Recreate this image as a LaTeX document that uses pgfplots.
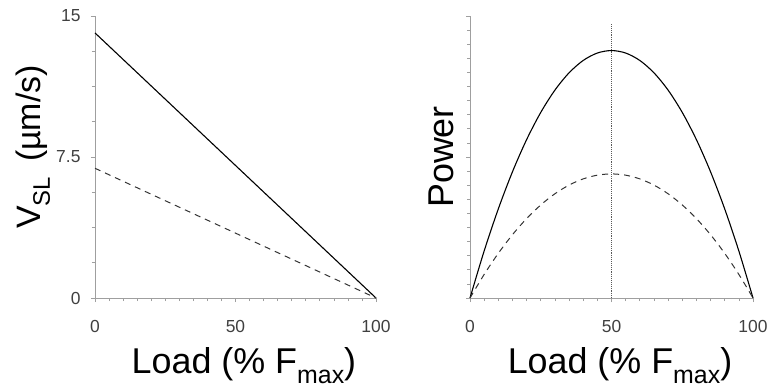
\documentclass[border=0pt]{standalone}
\usepackage{fontspec}
\setmainfont{Liberation Sans}
\usepackage{pgfplots}
\pgfplotsset{compat=1.18}
\begin{document}
\begin{tikzpicture}
\path[use as bounding box] (0,0) rectangle (771bp,391bp);
\pgfplotsset{
  common/.style={
    scale only axis, width=281bp, height=282bp,
    axis x line*=bottom, axis y line*=left,
    axis line style={draw=gray!75, line width=0.8bp, -},
    xmin=0, xmax=100,
    every tick/.style={draw=gray!75, line width=0.7bp},
    tick align=outside,
    major tick length=4bp, minor tick length=3bp,
    /pgf/number format/assume math mode=true,
    ticklabel style={font=\fontsize{17.5}{19}\selectfont, text=black!75},
    xtick={0,50,100}, minor x tick num=9,
    xticklabel style={yshift=-15bp},
    yticklabel style={xshift=-7bp},
    label style={font=\fontsize{36}{40}\selectfont},
    xlabel={Load (\% F\raisebox{-0.28em}{\fontsize{25}{25}\selectfont max})},
    xlabel style={at={(axis description cs:0.53,0)}, anchor=base, yshift=-75bp},
    clip=false,
  }
}
\begin{axis}[common, at={(95bp,93bp)}, anchor=south west,
  ymin=0, ymax=15, ytick={0,7.5,15}, minor y tick num=3,
  ylabel={V\raisebox{-0.28em}{\fontsize{24}{24}\selectfont SL}\hspace{0.45em}(µm/s)},
  ylabel style={font=\fontsize{34}{38}\selectfont, at={(axis description cs:0,0.535)}, anchor=center, yshift=62bp}]
\addplot[black, line width=1.1bp] coordinates {(0,14.1) (100,0)};
\addplot[black!80, line width=1bp, dash pattern=on 6bp off 5bp] coordinates {(0,6.9) (100,0)};
\end{axis}
\begin{axis}[common, at={(470bp,93bp)}, anchor=south west, width=283bp,
  ymin=0, ymax=400, ytick={0,200,400}, yticklabels={}, minor y tick num=9,
  ylabel={Power},
  ylabel style={at={(axis description cs:0,0.5)}, anchor=center, yshift=29bp}]
\addplot[gray!70!black, line width=0.9bp, densely dotted] coordinates {(50,0) (50,390)};
\addplot[black, line width=1.1bp, smooth] coordinates {
(0,0) (5,66.69) (10,126.36) (15,179.01) (20,224.64) (25,263.25) (30,294.84) (35,319.41) (40,336.96) (45,347.49) (50,351)
(55,347.49) (60,336.96) (65,319.41) (70,294.84) (75,263.25) (80,224.64) (85,179.01) (90,126.36) (95,66.69) (100,0)};
\addplot[black!80, line width=1bp, smooth, dash pattern=on 6bp off 5bp] coordinates {
(0,0) (5,33.44) (10,63.36) (15,89.76) (20,112.64) (25,132) (30,147.84) (35,160.16) (40,168.96) (45,174.24) (50,176)
(55,174.24) (60,168.96) (65,160.16) (70,147.84) (75,132) (80,112.64) (85,89.76) (90,63.36) (95,33.44) (100,0)};
\end{axis}
\end{tikzpicture}
\end{document}
